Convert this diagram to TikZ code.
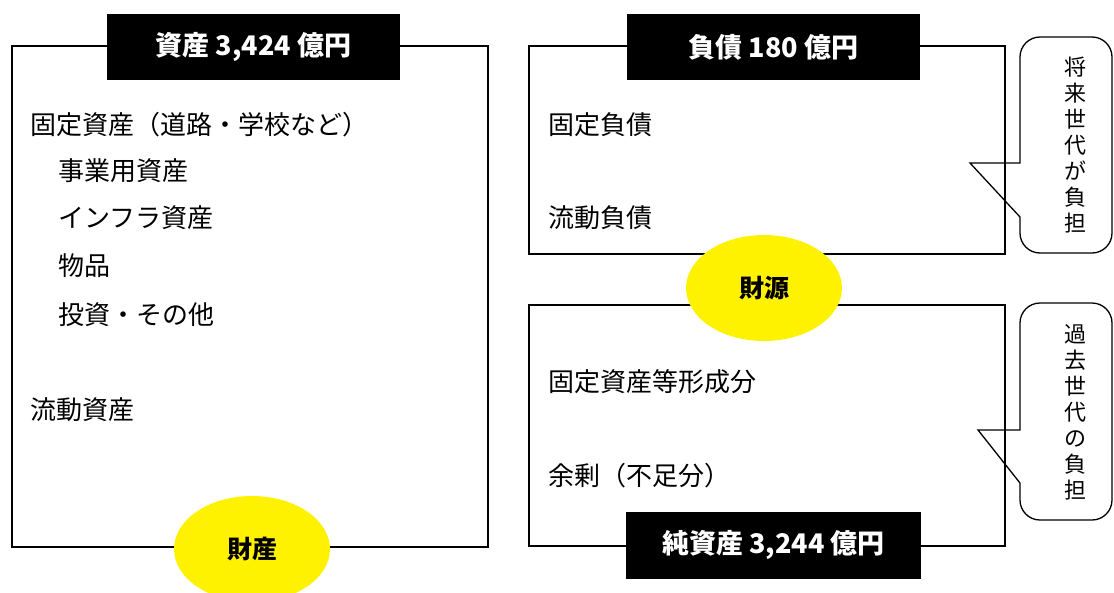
\documentclass[tikz,border=0pt]{standalone}
\usepackage{fontspec}
\setmainfont{Noto Sans CJK JP}
\usetikzlibrary{shapes.geometric}
\tikzset{
  x=1pt,y=-1pt,
  frame/.style={draw=black,line width=2.6pt},
  titlebox/.style={fill=black,text=white,font=\fontsize{27}{30}\selectfont\bfseries,minimum height=66pt,inner sep=0pt},
  blob/.style={ellipse,fill=yellow,draw=none,minimum width=156pt,minimum height=106pt,inner sep=0pt,font=\fontsize{25}{28}\selectfont\bfseries},
  item/.style={anchor=west,inner sep=0pt,font=\fontsize{26}{30}\selectfont},
  callout/.style={draw=black,line width=1.3pt},
  vtext/.style={align=center,inner sep=0pt,font=\fontsize{22}{26}\selectfont}
}
\begin{document}
\begin{tikzpicture}
\useasboundingbox (0,0) rectangle (1114,592);
\clip (0,0) rectangle (1114,592);
\fill[white] (0,0) rectangle (1114,592);
% left box
\draw[frame] (12,46) rectangle (488,547);
\node[titlebox,minimum width=293pt] (tA) at (253.5,47) {資産 3,424 億円};
\node[item] (a1) at (30,125) {固定資産（道路・学校など）};
\node[item] (a2) at (58,171) {事業用資産};
\node[item] (a3) at (58,218) {インフラ資産};
\node[item] (a4) at (58,266) {物品};
\node[item] (a5) at (58,315) {投資・その他};
\node[item] (a6) at (30,410) {流動資産};
\node[blob] (zaisan) at (252,549) {財産};
% right top box
\draw[frame] (529,46) rectangle (1005,254);
\node[titlebox,minimum width=293pt] (tL) at (773.5,47) {負債 180 億円};
\node[item] (b1) at (548,125) {固定負債};
\node[item] (b2) at (548,218) {流動負債};
% right lower box
\draw[frame] (529,305) rectangle (1005,546);
\node[item] (c1) at (548,382) {固定資産等形成分};
\node[item] (c2) at (548,476) {余剰（不足分）};
\node[titlebox,minimum width=295pt,minimum height=67pt] (tN) at (773.5,545.5) {純資産 3,244 億円};
\node[blob] (zaigen) at (764,288) {財源};
% callouts
\coordinate (p1) at (970,163);
\coordinate (p2) at (978,430);
\draw[callout] (p1) -- (1020,217) [rounded corners=20pt] -- (1020,253) -- (1112,253) -- (1112,37) -- (1020,37) [sharp corners] -- (1020,163) -- cycle;
\draw[callout] (p2) -- (1020,483) [rounded corners=20pt] -- (1020,520) -- (1112,520) -- (1112,303) -- (1020,303) [sharp corners] -- (1020,430) -- cycle;
\node[vtext] (v1) at (1075,145) {将\\来\\世\\代\\が\\負\\担};
\node[vtext] (v2) at (1075,412) {過\\去\\世\\代\\の\\負\\担};
\end{tikzpicture}
\end{document}
